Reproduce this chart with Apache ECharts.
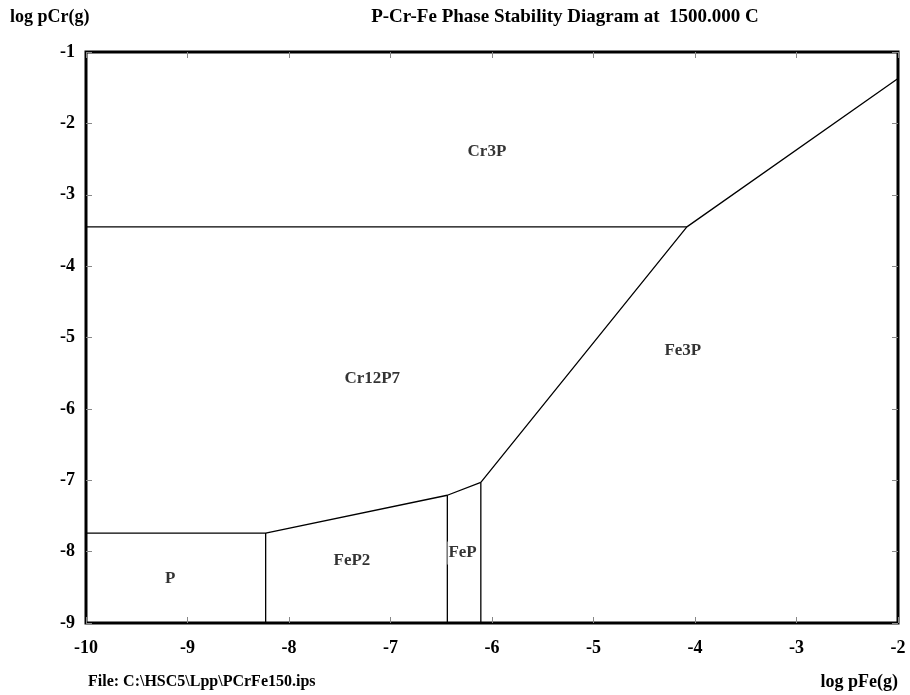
<!DOCTYPE html>
<html><head><meta charset="utf-8">
<script src="https://cdn.jsdelivr.net/npm/echarts@6/dist/echarts.min.js"></script>
<style>html,body{margin:0;padding:0;background:#fff}#c{width:910px;height:695px}</style>
</head><body><div id="c"></div>
<script>
// axis ticks
const xTicks = [-10, -9, -8, -7, -6, -5, -4, -3, -2];
const yTicks = [-9, -8, -7, -6, -5, -4, -3, -2, -1];
// phase boundary lines [log pFe, log pCr]
const lineCr3PCr12P7 = [[-10, -3.45], [-4.08, -3.45]];
const lineFe3P = [[-2, -1.37], [-4.08, -3.45], [-6.11, -7.03], [-6.11, -9]];
const lineLower = [[-6.11, -7.03], [-6.44, -7.21], [-8.23, -7.74], [-10, -7.74]];
const lineFeP = [[-6.44, -7.21], [-6.44, -9]];
const lineFeP2 = [[-8.23, -7.74], [-8.23, -9]];
// region labels
const regionNames = ['Cr3P', 'Cr12P7', 'Fe3P', 'FeP2', 'FeP', 'P'];
const regionX = [-6.05, -7.18, -4.12, -7.38, -6.29, -9.17];
const regionY = [-2.40, -5.58, -5.19, -8.13, -8.02, -8.38];

const FONT = '"Liberation Serif", "Times New Roman", serif';
const chart = echarts.init(document.getElementById('c'));
const lineSeries = [lineCr3PCr12P7, lineFe3P, lineLower, lineFeP, lineFeP2].map(d => ({
  type: 'line', data: d, symbol: 'none', silent: true, animation: false, z: 2,
  lineStyle: { color: '#000', width: 1.3 }
}));
const labelData = regionNames.map((n, i) => ({
  name: n, value: [regionX[i], regionY[i]],
  label: n === 'FeP' ? { backgroundColor: '#fff', padding: [3, 1, 3, 1] } : {}
}));
chart.setOption({
  animation: false,
  grid: { left: 86, right: 12, top: 52, bottom: 72, show: true, borderColor: '#000', borderWidth: 3, backgroundColor: 'transparent' },
  xAxis: [{
    type: 'value', min: -10, max: -2, interval: 1, position: 'bottom',
    axisLine: { show: false }, splitLine: { show: false },
    axisTick: { show: true, inside: true, length: 6, lineStyle: { color: '#888', width: 1 } },
    axisLabel: { color: '#000', fontFamily: FONT, fontWeight: 'bold', fontSize: 18, margin: 16,
      formatter: v => xTicks.includes(v) ? String(v) : '' }
  }, {
    type: 'value', min: -10, max: -2, interval: 1, position: 'top',
    axisLine: { show: false }, splitLine: { show: false },
    axisTick: { show: true, inside: true, length: 6, lineStyle: { color: '#888', width: 1 } },
    axisLabel: { show: false }
  }],
  yAxis: [{
    type: 'value', min: -9, max: -1, interval: 1, position: 'left',
    axisLine: { show: false }, splitLine: { show: false },
    axisTick: { show: true, inside: true, length: 6, lineStyle: { color: '#888', width: 1 } },
    axisLabel: { color: '#000', fontFamily: FONT, fontWeight: 'bold', fontSize: 18, margin: 11,
      formatter: v => yTicks.includes(v) ? String(v) : '' }
  }, {
    type: 'value', min: -9, max: -1, interval: 1, position: 'right',
    axisLine: { show: false }, splitLine: { show: false },
    axisTick: { show: true, inside: true, length: 6, lineStyle: { color: '#888', width: 1 } },
    axisLabel: { show: false }
  }],
  series: lineSeries.concat([{
    type: 'scatter', data: labelData, symbolSize: 0, silent: true, z: 5,
    label: { show: true, position: 'inside', formatter: '{b}', color: '#000',
      fontFamily: FONT, fontWeight: 'bold', fontSize: 17 }
  }]),
  graphic: [
    { type: 'text', left: 10, top: 8, style: { text: 'log pCr(g)', fill: '#000', font: 'bold 18px ' + FONT } },
    { type: 'text', x: 565, top: 8, style: { text: 'P-Cr-Fe Phase Stability Diagram at  1500.000 C', fill: '#000', font: 'bold 19px ' + FONT, textAlign: 'center' } },
    { type: 'text', left: 88, top: 674, style: { text: 'File: C:\\HSC5\\Lpp\\PCrFe150.ips', fill: '#000', font: 'bold 16px ' + FONT } },
    { type: 'text', right: 12, top: 673, style: { text: 'log pFe(g)', fill: '#000', font: 'bold 18px ' + FONT } }
  ]
});
</script></body></html>
